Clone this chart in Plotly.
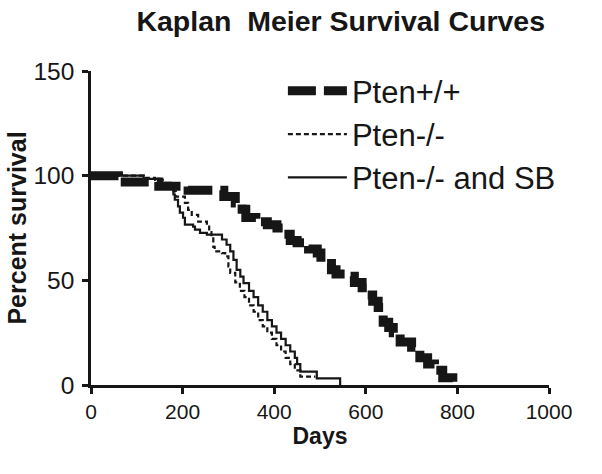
import plotly.graph_objects as go

# ---- data ----
wt_days = [0, 60, 148, 212, 290, 315, 330, 338, 360, 385, 406, 420, 435, 450, 475, 494,
           502, 525, 535, 555, 575, 592, 603, 615, 627, 638, 650, 660, 675, 700, 712,
           718, 735, 750, 768, 790]
wt_surv = [100, 97, 95, 93, 90, 87, 84, 80, 78, 76.5, 75, 72, 69, 68, 65, 63,
           58, 55, 53, 52, 49, 46.4, 43, 40, 37, 30, 27.5, 25, 20.5, 18, 16.7,
           13, 10, 7, 3.5, 0]

ko_days = [0, 115, 140, 160, 180, 185, 205, 212, 220, 234, 253, 258, 263, 267, 270,
           286, 293, 300, 304, 315, 325, 335, 345, 355, 365, 375, 385, 395, 405, 415,
           425, 435, 445, 457, 490]
ko_surv = [100, 99, 98, 96.5, 92.5, 90, 87, 83.7, 81.3, 78, 76.5, 73, 70, 66, 63.8,
           63, 61.4, 56.6, 53.6, 49, 45, 42, 38, 35, 31, 28, 25, 22, 19, 16,
           13, 10, 7, 4, 4]

sb_days = [0, 115, 150, 175, 180, 183, 190, 194, 201, 205, 223, 227, 238, 253, 286,
           296, 304, 311, 318, 326, 333, 345, 355, 365, 375, 385, 395, 405, 415, 425,
           435, 445, 450, 457, 493, 544]
sb_surv = [100, 98.5, 96.6, 94, 91, 88.5, 85.3, 82.3, 79.9, 76.6, 75.7, 74.2, 72.7, 71.8, 69.5,
           67, 63.8, 59.8, 55, 51.8, 48.7, 45, 42, 38, 35, 31, 28, 25, 22, 19,
           16, 13, 10, 6.4, 3.2, 0]

series_names = ["Pten+/+", "Pten-/-", "Pten-/- and SB"]
x_ticks = [0, 200, 400, 600, 800, 1000]
y_ticks = [0, 50, 100, 150]

FONT = "Arial, Liberation Sans, Helvetica, sans-serif"
INK = "#161616"

fig = go.Figure()
fig.add_trace(go.Scatter(x=wt_days, y=wt_surv, mode="lines", name=series_names[0],
                         line=dict(shape="hv", color=INK, width=9, dash="28px,8px"),
                         legendgroup="a"))
fig.add_trace(go.Scatter(x=ko_days, y=ko_surv, mode="lines", name=series_names[1],
                         line=dict(shape="hv", color=INK, width=2.2, dash="5px,3px"),
                         legendgroup="b"))
fig.add_trace(go.Scatter(x=sb_days, y=sb_surv, mode="lines", name=series_names[2],
                         line=dict(shape="hv", color=INK, width=2.2),
                         legendgroup="c"))

fig.update_layout(
    width=602, height=474,
    margin=dict(l=91, r=53, t=71, b=89),
    paper_bgcolor="white", plot_bgcolor="white",
    font=dict(family=FONT, color=INK),
    title=dict(text="<b>Kaplan  Meier Survival Curves</b>", x=0.566, xanchor="center",
               y=0.955, yanchor="middle", font=dict(size=28.5, color=INK)),
    showlegend=True,
    legend=dict(x=0.419, y=1.022, xanchor="left", yanchor="top",
                font=dict(size=31, color=INK), traceorder="grouped",
                tracegroupgap=0, bgcolor="rgba(0,0,0,0)", itemwidth=59),
    xaxis=dict(range=[0, 1000], tickvals=x_ticks, showgrid=False, zeroline=False,
               showline=True, linecolor=INK, linewidth=2.5, ticks="outside",
               ticklen=6, tickwidth=2.5, tickcolor=INK,
               tickfont=dict(size=21, family=FONT, color=INK),
               title=dict(text="<b>Days</b>", font=dict(size=23, color=INK), standoff=6)),
    yaxis=dict(range=[0, 150], tickvals=y_ticks, showgrid=False, zeroline=False,
               showline=True, linecolor=INK, linewidth=2.5, ticks="outside",
               ticklen=6, tickwidth=2.5, tickcolor=INK, ticklabelstandoff=3,
               tickfont=dict(size=24.5, family=FONT, color=INK),
               title=dict(text="<b>Percent survival</b>", font=dict(size=25, color=INK), standoff=0)),
)

fig.write_html("out.html", post_script="document.body.style.margin='0';",
               config={"displayModeBar": False})
